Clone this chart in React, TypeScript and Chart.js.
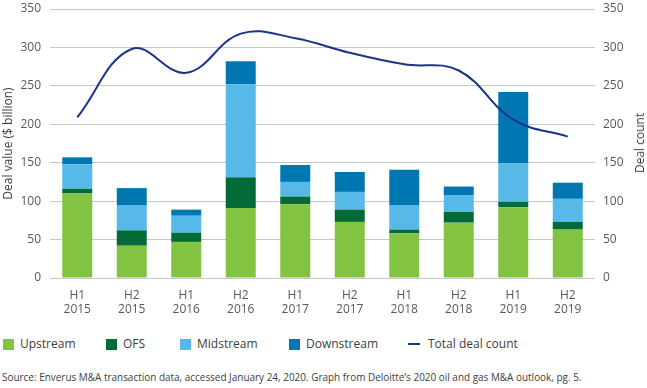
import React, { useEffect, useRef } from "react";
import { Chart, registerables } from "chart.js";

Chart.register(...registerables);

const categories = [
  ["H1", "2015"], ["H2", "2015"], ["H1", "2016"], ["H2", "2016"], ["H1", "2017"],
  ["H2", "2017"], ["H1", "2018"], ["H2", "2018"], ["H1", "2019"], ["H2", "2019"],
];
const upstream = [110, 42, 47, 91, 96, 73, 58, 72, 92, 63];
const ofs = [6, 20, 12, 40, 10, 16, 5, 14, 7, 10];
const midstream = [32, 33, 22, 121, 19, 23, 32, 22, 50, 30];
const downstream = [9, 22, 8, 30, 22, 26, 46, 11, 93, 21];
const dealCount = [209, 298, 267, 318, 312, 293, 278, 270, 206, 184];

const COLORS = {
  upstream: "#82c341",
  ofs: "#046a38",
  midstream: "#56b9e8",
  downstream: "#0077b1",
  line: "#17358a",
};

const legendItems = [
  { label: "Upstream", color: COLORS.upstream, x: 3, kind: "box" },
  { label: "OFS", color: COLORS.ofs, x: 106, kind: "box" },
  { label: "Midstream", color: COLORS.midstream, x: 180, kind: "box" },
  { label: "Downstream", color: COLORS.downstream, x: 289, kind: "box" },
  { label: "Total deal count", color: COLORS.line, x: 408, kind: "line" },
];

const FONT = "'Open Sans', sans-serif";
const TXT = "#595959";

export default function App() {
  const ref = useRef<HTMLCanvasElement | null>(null);

  useEffect(() => {
    if (!ref.current) return;
    const barCommon = { barPercentage: 0.55, categoryPercentage: 1, yAxisID: "y", order: 2 };
    const chart = new Chart(ref.current, {
      type: "bar",
      data: {
        labels: categories,
        datasets: [
          { type: "line", label: "Total deal count", data: dealCount, yAxisID: "y1", borderColor: COLORS.line, backgroundColor: COLORS.line, borderWidth: 2, pointRadius: 0, tension: 0.4, order: 0 } as any,
          { label: "Upstream", data: upstream, backgroundColor: COLORS.upstream, ...barCommon },
          { label: "OFS", data: ofs, backgroundColor: COLORS.ofs, ...barCommon },
          { label: "Midstream", data: midstream, backgroundColor: COLORS.midstream, ...barCommon },
          { label: "Downstream", data: downstream, backgroundColor: COLORS.downstream, ...barCommon },
        ],
      },
      options: {
        responsive: false,
        animation: false,
        devicePixelRatio: 1,
        layout: { padding: { top: 0, left: 0, right: 0, bottom: 0 } },
        plugins: { legend: { display: false }, tooltip: { enabled: false } },
        scales: {
          x: {
            stacked: true,
            grid: { display: false, drawTicks: false },
            border: { display: false },
            ticks: { color: TXT, font: { family: FONT, size: 12 }, padding: 10, maxRotation: 0 },
            afterFit: (s: any) => { s.height = 42; },
          },
          y: {
            stacked: true,
            position: "left",
            min: 0,
            max: 350,
            ticks: { stepSize: 50, color: TXT, font: { family: FONT, size: 12 }, padding: 9 },
            grid: { color: "#c6c6c6", lineWidth: 1, drawTicks: false },
            border: { display: false },
            title: { display: true, text: "Deal value ($ billion)", color: "#404040", font: { family: FONT, size: 12 }, padding: { top: 1, bottom: 0 } },
            afterFit: (s: any) => { s.width = 50; s.paddingTop = 9; s.paddingBottom = 0; },
          },
          y1: {
            position: "right",
            min: 0,
            max: 350,
            ticks: { stepSize: 50, color: TXT, font: { family: FONT, size: 12 }, padding: 8 },
            grid: { display: false, drawTicks: false },
            border: { display: false },
            afterFit: (s: any) => { s.width = 52; s.paddingTop = 9; s.paddingBottom = 0; },
          },
        },
      } as any,
    });
    return () => chart.destroy();
  }, []);

  return (
    <div style={{ position: "fixed", left: 0, top: 0, width: 647, height: 388, background: "#fff", fontFamily: FONT, overflow: "hidden" }}>
      <canvas ref={ref} width={647} height={320} style={{ position: "absolute", left: 0, top: 0 }} />
      <div style={{ position: "absolute", left: 640, top: 143, transform: "translate(-50%, -50%) rotate(-90deg)", whiteSpace: "nowrap", fontSize: 12, color: "#404040", lineHeight: "14px" }}>
        Deal count
      </div>
      {legendItems.map((it) => (
        <div key={it.label} style={{ position: "absolute", left: it.x, top: 336, height: 16, display: "flex", alignItems: "center", whiteSpace: "nowrap" }}>
          {it.kind === "box" ? (
            <span style={{ display: "inline-block", width: 11, height: 11, background: it.color, marginRight: 6 }} />
          ) : (
            <span style={{ display: "inline-block", width: 12, height: 2, background: it.color, marginRight: 8 }} />
          )}
          <span style={{ fontSize: 12, color: "#404040", lineHeight: "16px" }}>{it.label}</span>
        </div>
      ))}
      <div style={{ position: "absolute", left: 2, top: 369, fontSize: 11.5, lineHeight: "16px", color: "#404040", whiteSpace: "nowrap", fontFamily: FONT, transform: "scaleX(0.865)", transformOrigin: "left center" }}>
        Source: Enverus M&amp;A transaction data, accessed January 24, 2020. Graph from Deloitte’s 2020 oil and gas M&amp;A outlook, pg. 5.
      </div>
    </div>
  );
}
